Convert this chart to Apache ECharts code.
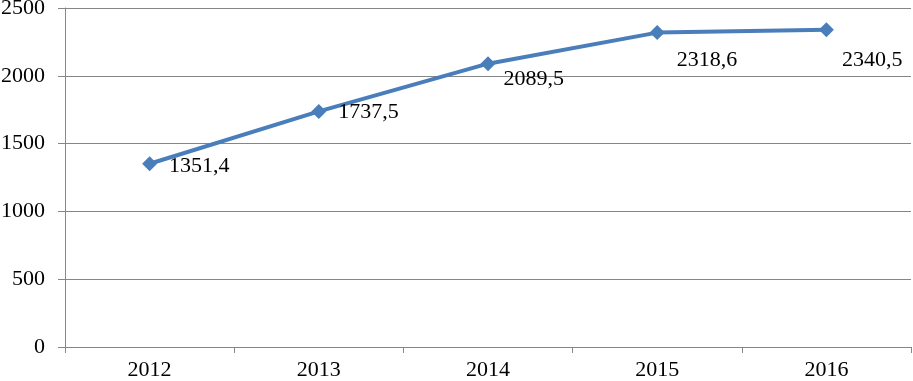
<!DOCTYPE html>
<html><head><meta charset="utf-8">
<script src="https://cdn.jsdelivr.net/npm/echarts@6/dist/echarts.min.js"></script>
<style>html,body{margin:0;padding:0;background:#fff}#c{width:913px;height:381px}</style>
</head><body><div id="c"></div>
<script>
var categories = ['2012', '2013', '2014', '2015', '2016'];
var values = [1351.4, 1737.5, 2089.5, 2318.6, 2340.5];
var yTicks = [0, 500, 1000, 1500, 2000, 2500];

var labelShift = [[4, 2], [4, 1], [0, 16], [4, 28], [0, 31]];
var FONT = '"Liberation Serif", "Times New Roman", serif';
var chart = echarts.init(document.getElementById('c'));
chart.setOption({
  animation: false,
  grid: {left: 65, right: 2, top: 8, bottom: 34, containLabel: false, outerBoundsMode: 'none'},
  xAxis: {
    type: 'category', data: categories, boundaryGap: true,
    axisLine: {lineStyle: {color: '#868686', width: 1}},
    axisTick: {show: true, length: 6, inside: false, lineStyle: {color: '#868686'}},
    axisLabel: {color: '#000', fontFamily: FONT, fontSize: 22, margin: 12},
    splitLine: {show: false}
  },
  yAxis: {
    type: 'value', min: yTicks[0], max: yTicks[yTicks.length - 1], interval: 500,
    axisLine: {show: true, lineStyle: {color: '#868686', width: 1}},
    axisTick: {show: true, length: 7, lineStyle: {color: '#868686'}},
    axisLabel: {color: '#000', fontFamily: FONT, fontSize: 22, margin: 20,
      formatter: function (v) { return String(v); }},
    splitLine: {show: true, lineStyle: {color: '#868686', width: 1}}
  },
  series: [{
    type: 'line',
    data: values.map(function (v, i) {
      return {value: v, label: {offset: labelShift[i]}};
    }),
    symbol: 'diamond', symbolSize: 15,
    lineStyle: {color: '#4A7EBB', width: 4},
    itemStyle: {color: '#4A7EBB'},
    label: {
      show: true, position: 'right', distance: 8,
      color: '#000', fontFamily: FONT, fontSize: 22,
      formatter: function (p) { return String(p.value).replace('.', ','); }
    }
  }]
});
</script></body></html>
